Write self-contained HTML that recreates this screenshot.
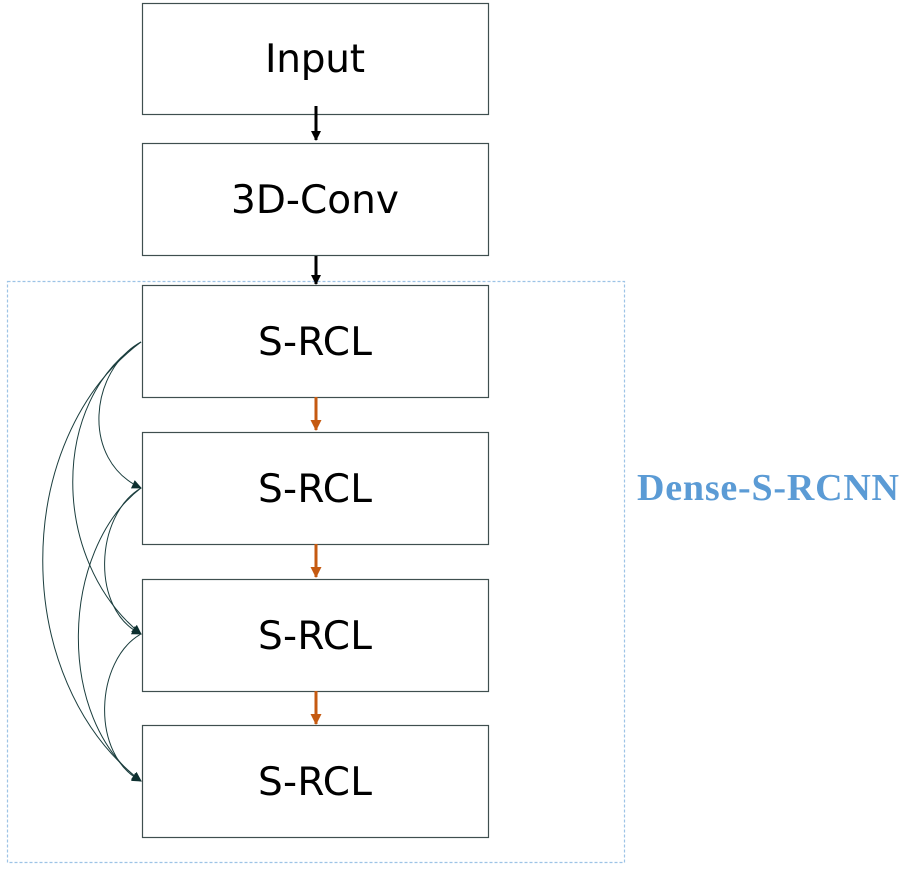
<!DOCTYPE html>
<html><head><style>
body{margin:0;background:#fff;width:922px;height:872px;overflow:hidden}
</style></head><body>
<svg width="922" height="872" xmlns="http://www.w3.org/2000/svg">
<defs>
<marker id="ab" markerWidth="10" markerHeight="10" refX="9" refY="5" orient="auto" markerUnits="userSpaceOnUse"><path d="M0,0 L10,5 L0,10z" fill="#000"/></marker>
<marker id="ao" markerWidth="11" markerHeight="11" refX="10" refY="5.5" orient="auto" markerUnits="userSpaceOnUse"><path d="M0,0 L11,5.5 L0,11z" fill="#c55a11"/></marker>
<marker id="at" markerWidth="10" markerHeight="9" refX="9" refY="4.5" orient="auto" markerUnits="userSpaceOnUse"><path d="M0,0 L10,4.5 L0,9z" fill="#0e3030"/></marker>
</defs>
<rect x="7.5" y="281.5" width="617" height="581" fill="none" stroke="#9dc3e6" stroke-width="1.2" stroke-dasharray="3,2"/>
<g fill="#fff" stroke="#3f4f4f" stroke-width="1.2">
<rect x="142.5" y="3.5" width="346" height="111"/>
<rect x="142.5" y="143.5" width="346" height="112"/>
<rect x="142.5" y="285.5" width="346" height="112"/>
<rect x="142.5" y="432.5" width="346" height="112"/>
<rect x="142.5" y="579.5" width="346" height="112"/>
<rect x="142.5" y="725.5" width="346" height="112"/>
</g>
<g font-family="'DejaVu Sans','Liberation Sans',sans-serif" font-size="39" text-anchor="middle" fill="#000">
<text x="315" y="72" textLength="100">Input</text>
<text x="315" y="213" textLength="168">3D-Conv</text>
<text x="315" y="355" textLength="114">S-RCL</text>
<text x="315" y="502" textLength="114">S-RCL</text>
<text x="315" y="649" textLength="114">S-RCL</text>
<text x="315" y="795" textLength="114">S-RCL</text>
</g>
<g stroke="#000" stroke-width="3">
<line x1="316" y1="106" x2="316" y2="140" marker-end="url(#ab)"/>
<line x1="316" y1="256" x2="316" y2="284" marker-end="url(#ab)"/>
</g>
<g stroke="#c55a11" stroke-width="3">
<line x1="316" y1="397" x2="316" y2="430" marker-end="url(#ao)"/>
<line x1="316" y1="544" x2="316" y2="577" marker-end="url(#ao)"/>
<line x1="316" y1="691" x2="316" y2="724" marker-end="url(#ao)"/>
</g>
<g fill="none" stroke="#1a3d3d" stroke-width="1">
<path d="M141 342 C 90 370, 80 460, 141 488" marker-end="url(#at)"/>
<path d="M141 342 C 50 400, 50 560, 141 634" marker-end="url(#at)"/>
<path d="M141 342 C 10 440, 10 680, 141 781" marker-end="url(#at)"/>
<path d="M141 488 C 95 515, 90 610, 141 634" marker-end="url(#at)"/>
<path d="M141 488 C 60 550, 55 720, 141 781" marker-end="url(#at)"/>
<path d="M141 634 C 95 660, 90 755, 141 781" marker-end="url(#at)"/>
</g>
<text x="768" y="500" font-family="'Liberation Serif',serif" font-weight="bold" font-size="38" fill="#5b9bd5" text-anchor="middle" textLength="262">Dense-S-RCNN</text>
</svg>
</body></html>
